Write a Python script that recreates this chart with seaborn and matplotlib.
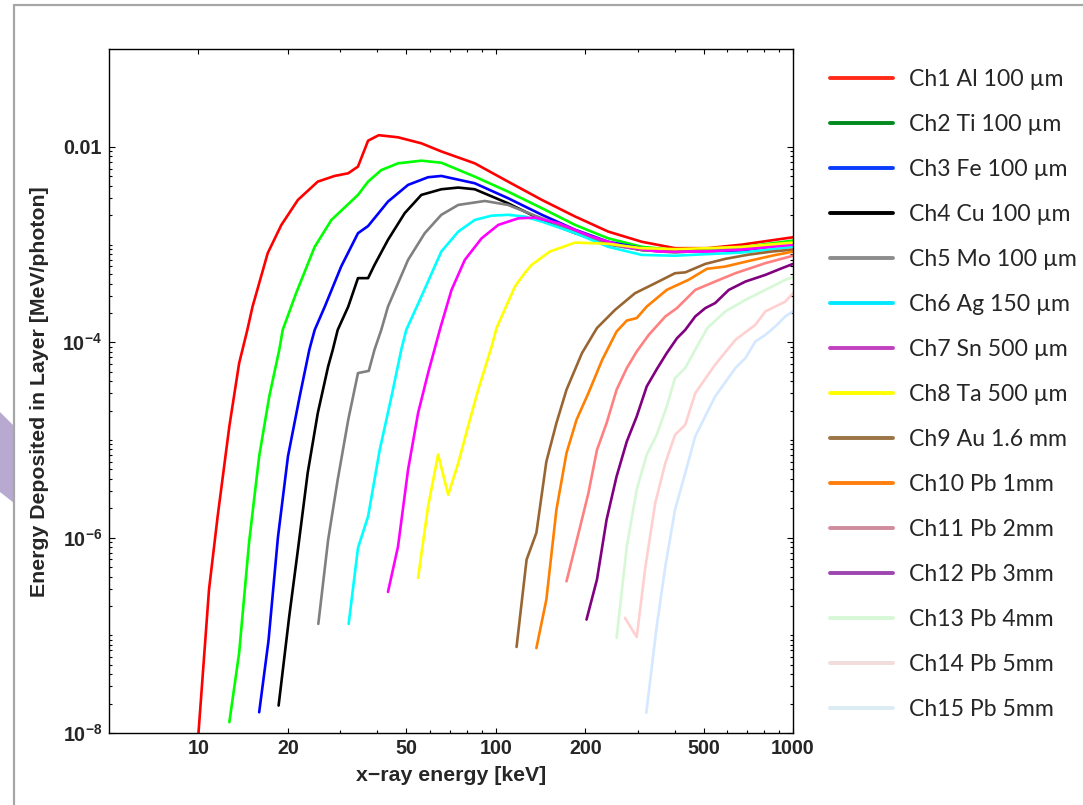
import numpy as np
import pandas as pd
import matplotlib
matplotlib.use("Agg")
import matplotlib.pyplot as plt
import seaborn as sns
from matplotlib.lines import Line2D
from matplotlib.patches import Polygon
from matplotlib.ticker import FixedLocator, FuncFormatter, NullFormatter
from matplotlib.font_manager import FontProperties

# ---------------------------------------------------------------------------
# Energy deposited per photon in each detector layer (x-ray energy in keV,
# deposit in MeV/photon)
# ---------------------------------------------------------------------------
ch1_e = [10.0, 10.85, 11.6, 12.7, 13.7, 14.6, 15.2, 17.1, 19.0, 21.6, 25.2, 28.7, 31.9, 34.4,
         37.2, 40.4, 46.9, 56.2, 65.6, 85, 110, 143, 185, 239, 310, 401, 515, 673, 870, 1000]
ch1_d = [1.0e-8, 2.95e-7, 1.65e-6, 1.38e-5, 6.1e-5, 1.34e-4, 2.32e-4, 8.2e-4, 1.59e-3, 2.87e-3,
         4.42e-3, 5.05e-3, 5.38e-3, 6.3e-3, 1.16e-2, 1.32e-2, 1.256e-2, 1.09e-2, 9.0e-3, 6.8e-3,
         4.42e-3, 2.87e-3, 1.94e-3, 1.36e-3, 1.07e-3, 9.2e-4, 9.2e-4, 1.0e-3, 1.12e-3, 1.19e-3]

ch2_e = [12.7, 13.7, 14.8, 16.0, 17.3, 18.7, 19.2, 21.3, 24.6, 28.0, 34.4, 37.2, 41.2, 46.9,
         56.2, 65.6, 85, 110, 143, 185, 239, 310, 401, 515, 673, 1000]
ch2_d = [1.29e-8, 6.6e-8, 9.0e-7, 6.8e-6, 2.79e-5, 8.4e-5, 1.34e-4, 3.18e-4, 9.5e-4, 1.79e-3,
         3.23e-3, 4.42e-3, 5.8e-3, 6.8e-3, 7.24e-3, 6.9e-3, 4.97e-3, 3.49e-3, 2.36e-3, 1.59e-3,
         1.16e-3, 9.5e-4, 8.8e-4, 8.9e-4, 9.4e-4, 1.10e-3]

ch3_e = [16.0, 17.2, 18.5, 20.0, 21.9, 23.6, 24.6, 26.6, 30.2, 34.4, 37.2, 43.4, 50.7, 59.2,
         65.6, 85, 110, 143, 185, 239, 310, 401, 673, 1000]
ch3_d = [1.63e-8, 8.8e-8, 1.0e-6, 6.8e-6, 2.79e-5, 8.4e-5, 1.34e-4, 2.32e-4, 5.97e-4, 1.31e-3,
         1.55e-3, 2.76e-3, 4.09e-3, 4.9e-3, 5.05e-3, 4.25e-3, 2.99e-3, 2.02e-3, 1.42e-3,
         1.07e-3, 9.2e-4, 8.5e-4, 8.7e-4, 1.03e-3]

ch4_e = [18.6, 20.2, 21.6, 23.3, 25.2, 27.3, 28.3, 29.4, 31.9, 34.4, 37.2, 39.1, 43.4, 49.4,
         56.2, 65.6, 74.8, 85, 110, 143, 185, 239, 310, 401, 1000]
ch4_d = [1.91e-8, 1.57e-7, 7.5e-7, 4.6e-6, 1.89e-5, 5.66e-5, 8.4e-5, 1.34e-4, 2.32e-4, 4.54e-4,
         4.54e-4, 6.2e-4, 1.12e-3, 2.1e-3, 3.23e-3, 3.69e-3, 3.84e-3, 3.69e-3, 2.65e-3,
         1.79e-3, 1.31e-3, 1.03e-3, 8.8e-4, 8.5e-4, 1.02e-3]

ch5_e = [25.3, 27.3, 29.4, 31.9, 34.4, 37.4, 39.1, 41.2, 43.4, 50.7, 57.7, 65.6, 74.8, 91.9,
         110, 143, 185, 239, 310, 401, 1000]
ch5_d = [1.31e-7, 9.5e-7, 3.92e-6, 1.61e-5, 4.84e-5, 5.1e-5, 8.4e-5, 1.34e-4, 2.32e-4, 6.98e-4,
         1.31e-3, 2.02e-3, 2.55e-3, 2.8e-3, 2.55e-3, 1.86e-3, 1.36e-3, 1.0e-3, 8.8e-4, 8.3e-4,
         1.0e-3]

ch6_e = [32.0, 34.4, 37.2, 40.7, 44.6, 48.1, 50.0, 56.2, 65.6, 74.8, 85, 96.8, 110, 125, 143,
         185, 239, 310, 401, 515, 673, 1000]
ch6_d = [1.31e-7, 7.85e-7, 1.65e-6, 7.9e-6, 2.79e-5, 8.4e-5, 1.34e-4, 2.94e-4, 8.5e-4, 1.36e-3,
         1.79e-3, 1.98e-3, 2.02e-3, 1.94e-3, 1.72e-3, 1.31e-3, 9.5e-4, 7.85e-4, 7.7e-4, 8.0e-4,
         8.3e-4, 9.5e-4]

ch7_e = [43.4, 46.9, 50.7, 54.8, 59.2, 65.3, 71, 78.7, 89.6, 101.9, 119, 135.5, 162, 210, 272,
         351, 515, 673, 1000]
ch7_d = [2.78e-7, 8.1e-7, 4.96e-6, 1.89e-5, 4.84e-5, 1.45e-4, 3.44e-4, 6.98e-4, 1.16e-3,
         1.59e-3, 1.86e-3, 1.89e-3, 1.66e-3, 1.21e-3, 9.5e-4, 8.5e-4, 8.5e-4, 8.9e-4, 1.0e-3]

ch8_e = [54.8, 59.2, 64.0, 69.2, 74.8, 80.7, 87.3, 96.8, 100.6, 116, 125, 132, 152, 185, 239,
         310, 401, 515, 673, 1000]
ch8_d = [3.87e-7, 2.09e-6, 7.1e-6, 2.75e-6, 5.8e-6, 1.38e-5, 3.27e-5, 9.0e-5, 1.4e-4, 3.72e-4,
         5.1e-4, 6.2e-4, 8.5e-4, 1.05e-3, 1.02e-3, 9.2e-4, 9.0e-4, 9.2e-4, 9.5e-4, 1.05e-3]

ch9_e = [117.5, 127, 137, 148, 160, 173, 195, 219, 252, 294, 344, 401, 434, 507, 592, 709, 849,
         1000]
ch9_d = [7.6e-8, 5.96e-7, 1.12e-6, 6.0e-6, 1.49e-5, 3.27e-5, 7.75e-5, 1.40e-4, 2.15e-4, 3.18e-4,
         4.03e-4, 5.1e-4, 5.2e-4, 6.35e-4, 7.15e-4, 7.9e-4, 8.5e-4, 8.9e-4]

ch10_e = [137, 148, 160, 173, 187, 205, 228, 255, 276, 298, 322, 376, 445, 513, 592, 709, 849,
          1000]
ch10_d = [7.4e-8, 2.32e-7, 1.93e-6, 7.35e-6, 1.61e-5, 3.02e-5, 6.6e-5, 1.29e-4, 1.67e-4,
          1.77e-4, 2.32e-4, 3.44e-4, 4.36e-4, 5.65e-4, 5.97e-4, 6.8e-4, 7.7e-4, 8.5e-4]

ch11_e = [173, 190, 205, 219, 236, 255, 276, 298, 327, 372, 407, 469, 547, 640, 807, 1000]
ch11_d = [3.57e-7, 1.12e-6, 2.86e-6, 7.9e-6, 1.49e-5, 3.27e-5, 5.45e-5, 8.05e-5, 1.19e-4,
          1.84e-4, 2.24e-4, 3.44e-4, 4.19e-4, 5.1e-4, 6.46e-4, 7.7e-4]

ch12_e = [202, 219, 236, 255, 276, 298, 322, 348, 376, 407, 434, 469, 507, 547, 608, 692, 807,
          918, 1000]
ch12_d = [1.45e-7, 3.72e-7, 1.53e-6, 4.24e-6, 9.66e-6, 1.74e-5, 3.53e-5, 5.3e-5, 7.75e-5,
          1.10e-4, 1.34e-4, 1.84e-4, 2.24e-4, 2.52e-4, 3.44e-4, 4.19e-4, 4.9e-4, 5.74e-4,
          6.35e-4]

ch13_e = [255, 276, 298, 322, 348, 376, 401, 434, 469, 515, 592, 692, 807, 942, 1000]
ch13_d = [9.4e-8, 8.1e-7, 3.1e-6, 7.06e-6, 1.13e-5, 2.2e-5, 4.3e-5, 5.45e-5, 8.4e-5, 1.4e-4,
          2.07e-4, 2.72e-4, 3.44e-4, 4.36e-4, 4.64e-4]

ch14_e = [272, 298, 319, 344, 372, 401, 434, 469, 547, 640, 747, 807, 942, 1000]
ch14_d = [1.51e-7, 9.6e-8, 5.1e-7, 2.26e-6, 5.8e-6, 1.13e-5, 1.43e-5, 3.02e-5, 5.9e-5,
          1.06e-4, 1.51e-4, 2.07e-4, 2.61e-4, 3.18e-4]

ch15_e = [321, 348, 372, 401, 434, 469, 547, 640, 692, 747, 807, 871, 942, 1000]
ch15_d = [1.61e-8, 1.24e-7, 5.1e-7, 1.93e-6, 4.6e-6, 1.09e-5, 2.79e-5, 5.45e-5, 6.9e-5,
          1.02e-4, 1.19e-4, 1.45e-4, 1.84e-4, 2.07e-4]

labels = ["Ch1 Al 100 µm", "Ch2 Ti 100 µm", "Ch3 Fe 100 µm", "Ch4 Cu 100 µm",
          "Ch5 Mo 100 µm", "Ch6 Ag 150 µm", "Ch7 Sn 500 µm", "Ch8 Ta 500 µm",
          "Ch9 Au 1.6 mm", "Ch10 Pb 1mm", "Ch11 Pb 2mm", "Ch12 Pb 3mm",
          "Ch13 Pb 4mm", "Ch14 Pb 5mm", "Ch15 Pb 5mm"]

energies = [ch1_e, ch2_e, ch3_e, ch4_e, ch5_e, ch6_e, ch7_e, ch8_e,
            ch9_e, ch10_e, ch11_e, ch12_e, ch13_e, ch14_e, ch15_e]
deposits = [ch1_d, ch2_d, ch3_d, ch4_d, ch5_d, ch6_d, ch7_d, ch8_d,
            ch9_d, ch10_d, ch11_d, ch12_d, ch13_d, ch14_d, ch15_d]

line_colors = ["#ff0000", "#00ff00", "#0000ff", "#000000", "#808080", "#00ffff", "#ff00ff",
               "#ffff00", "#996633", "#ff8000", "#ff8080", "#800080", "#d6f8d6", "#ffd0d0",
               "#d4e8ff"]
legend_colors = ["#ff2a1a", "#008a1e", "#0a3cff", "#000000", "#8c8c8c", "#00e8ff", "#c040c0",
                 "#ffff00", "#9c7446", "#ff7f0e", "#cf8c9c", "#9e46b0", "#d6f8d6", "#f2dcdc",
                 "#dcecf3"]

# ---------------------------------------------------------------------------
# Long-form table for seaborn
# ---------------------------------------------------------------------------
frames = []
for name, e, d in zip(labels, energies, deposits):
    frames.append(pd.DataFrame({"energy": e, "deposit": d, "channel": name}))
df = pd.concat(frames, ignore_index=True)

sns.set_style("ticks")
plt.rcParams["font.family"] = ["Liberation Sans", "DejaVu Sans"]
plt.rcParams["mathtext.fontset"] = "custom"
plt.rcParams["mathtext.rm"] = "Liberation Sans:bold"
plt.rcParams["mathtext.it"] = "Liberation Sans:bold"
plt.rcParams["mathtext.bf"] = "Liberation Sans:bold"

W, H = 1083, 805
fig = plt.figure(figsize=(W / 100, H / 100), dpi=100)
fig.patch.set_facecolor("white")

# slide decorations: grey frame and a lavender shape peeking in on the left
fig.add_artist(Polygon([(0, 1 - 412 / H), (14 / W, 1 - 426 / H), (14 / W, 1 - 503 / H),
                        (0, 1 - 492 / H)], closed=True, transform=fig.transFigure,
                       facecolor="#b8a9d0", edgecolor="none", zorder=0))
fig.add_artist(Line2D([14 / W, 14 / W], [0, 1 - 5 / H], transform=fig.transFigure,
                      color="#a6a6a6", lw=1.6))
fig.add_artist(Line2D([14 / W, 1], [1 - 5 / H, 1 - 5 / H], transform=fig.transFigure,
                      color="#a6a6a6", lw=1.6))

ax = fig.add_axes([109 / W, 1 - 733 / H, (793 - 109) / W, (733 - 49.3) / H])
ax.set_xscale("log")
ax.set_yscale("log")

sns.lineplot(data=df, x="energy", y="deposit", hue="channel", hue_order=labels,
             palette=dict(zip(labels, line_colors)), estimator=None, sort=False,
             legend=False, linewidth=1.9, ax=ax)

ax.set_xlim(5, 1000)
ax.set_ylim(1e-8, 0.1)

# x ticks
x_major = [10, 20, 50, 100, 200, 500, 1000]
x_minor = [30, 40, 60, 70, 80, 90, 300, 400, 600, 700, 800, 900]
ax.xaxis.set_major_locator(FixedLocator(x_major))
ax.xaxis.set_minor_locator(FixedLocator(x_minor))
ax.xaxis.set_major_formatter(FuncFormatter(lambda v, p: f"{int(round(v))}"))
ax.xaxis.set_minor_formatter(NullFormatter())

# y ticks
y_major = [1e-8, 1e-6, 1e-4, 1e-2]
y_minor = [m * 10.0 ** k for k in range(-8, -2) for m in range(1, 10)
           if not (m == 1 and k % 2 == 0)]
ax.yaxis.set_major_locator(FixedLocator(y_major))
ax.yaxis.set_minor_locator(FixedLocator(y_minor))


def y_fmt(v, pos):
    if abs(v - 0.01) < 1e-12:
        return "0.01"
    return r"$\mathrm{10^{%d}}$" % int(round(np.log10(v)))


ax.yaxis.set_major_formatter(FuncFormatter(y_fmt))
ax.yaxis.set_minor_formatter(NullFormatter())

for s in ax.spines.values():
    s.set_color("black")
    s.set_linewidth(1.0)
ax.tick_params(which="both", direction="in", top=True, right=True, width=0.8, color="black")
ax.tick_params(axis="x", which="major", length=3.5, pad=4)
ax.tick_params(axis="x", which="minor", length=2.0)
ax.tick_params(axis="y", which="major", length=4.5, pad=5)
ax.tick_params(axis="y", which="minor", length=2.2)
for lab in ax.get_xticklabels() + ax.get_yticklabels():
    lab.set_fontsize(14.2)
    lab.set_fontweight("bold")

ax.set_xlabel("x\u2212ray energy [keV]", fontsize=15.3, fontweight="bold")
ax.set_ylabel("Energy Deposited in Layer [MeV/photon]", fontsize=15.3, fontweight="bold")
ax.xaxis.set_label_coords(0.5, -0.048)
ax.yaxis.set_label_coords(-0.088, 0.5)

# legend to the right of the plot area
handles = [Line2D([0], [0], color=c, lw=2.8) for c in legend_colors]
fig.legend(handles, labels, loc="upper left", bbox_to_anchor=(830 / W, 1 - 69.5 / H),
           frameon=False, borderpad=0, borderaxespad=0, handlelength=2.72,
           handletextpad=0.69, labelspacing=1.04,
           prop=FontProperties(family=["Lato", "DejaVu Sans"], size=16.6))

fig.savefig("out.png", dpi=100, facecolor="white")
